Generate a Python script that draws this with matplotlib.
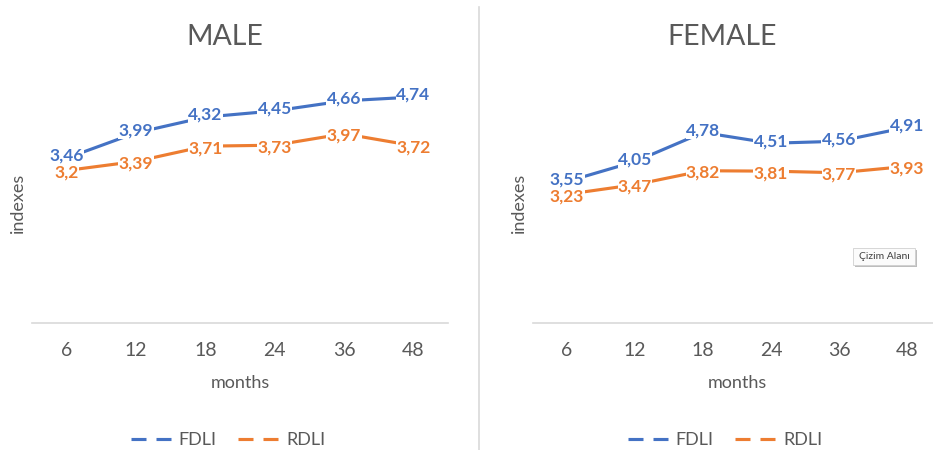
import matplotlib
matplotlib.use("Agg")
import matplotlib.pyplot as plt
from matplotlib.lines import Line2D
from matplotlib.patches import FancyBboxPatch
from matplotlib.transforms import offset_copy

plt.rcParams['font.family'] = ['Lato', 'DejaVu Sans']

months = ["6", "12", "18", "24", "36", "48"]
male_fdli = [3.46, 3.99, 4.32, 4.45, 4.66, 4.74]
male_rdli = [3.20, 3.39, 3.71, 3.73, 3.97, 3.72]
female_fdli = [3.55, 4.05, 4.78, 4.51, 4.56, 4.91]
female_rdli = [3.23, 3.47, 3.82, 3.81, 3.77, 3.93]

BLUE = "#4472C4"
ORANGE = "#ED7D31"
GREY = "#595959"
AXIS = "#D9D9D9"

W, H = 933, 450
fig = plt.figure(figsize=(W / 100, H / 100), dpi=100)


def fmt(v):
    s = f"{v:.2f}".rstrip("0").rstrip(".")
    return s.replace(".", ",")


def panel(rect, ymax, title, fdli, rdli, title_x, legend_x, ylabel_x):
    ax = fig.add_axes(rect)
    x = list(range(len(months)))
    # (values, colour, vertical nudge of the value labels in points, z-order)
    for vals, col, dy, z in ((fdli, BLUE, 1.5, 4), (rdli, ORANGE, -1.5, 3)):
        ax.plot(x, vals, color=col, lw=2.25, solid_capstyle='butt', zorder=2)
        tr = offset_copy(ax.transData, fig=fig, x=0, y=dy, units='points')
        for xi, v in zip(x, vals):
            ax.text(xi, v, fmt(v), ha='center', va='center', color=col,
                    fontsize=12.5, fontweight='bold', zorder=z, transform=tr,
                    bbox=dict(boxstyle='square,pad=0.02', fc='white', ec='none'))
    ax.set_xlim(-0.5, len(months) - 0.5)
    ax.set_ylim(0, ymax)
    ax.set_yticks([])
    ax.set_xticks(x)
    ax.set_xticklabels(months, fontsize=14, color=GREY)
    ax.tick_params(axis='x', length=0, pad=14)
    for s in ('top', 'right', 'left'):
        ax.spines[s].set_visible(False)
    ax.spines['bottom'].set_color(AXIS)
    ax.spines['bottom'].set_linewidth(1.2)
    ax.set_facecolor('none')

    fig.text(title_x / W, 1 - 37 / H, title, ha='center', va='center',
             fontsize=20.5, color=GREY)
    cx = (rect[0] + rect[2] / 2)
    fig.text(cx, 1 - 383 / H, "months", ha='center', va='center',
             fontsize=13, color=GREY)
    fig.text(ylabel_x / W, 1 - 203 / H, "indexes", ha='center', va='center',
             rotation=90, fontsize=13, color=GREY)

    handles = [Line2D([], [], color=BLUE, lw=2.25, dashes=(4.8, 3.2)),
               Line2D([], [], color=ORANGE, lw=2.25, dashes=(4.8, 3.2))]
    fig.legend(handles, ["FDLI", "RDLI"], loc='center',
               bbox_to_anchor=(legend_x / W, 1 - 440 / H), ncol=2,
               frameon=False, fontsize=13, labelcolor=GREY,
               handlelength=2.4, handletextpad=0.25, columnspacing=1.2)
    return ax


bottom = (H - 323) / H
panel([32 / W, bottom, 416 / W, 286 / H], 6, "MALE", male_fdli, male_rdli,
      225, 228, 18)
panel([533 / W, bottom, 408 / W, 279 / H], 7, "FEMALE", female_fdli, female_rdli,
      722, 725, 519)

# divider between the two charts
fig.add_artist(Line2D([479 / W, 479 / W], [0, 1 - 7 / H], color=AXIS, lw=1.2))

# plot-area tooltip
shadow = FancyBboxPatch((855 / W, 1 - 267 / H), 62 / W, 17 / H,
                        boxstyle='square,pad=0', fc='#BDBDBD', ec='none',
                        transform=fig.transFigure)
box = FancyBboxPatch((853 / W, 1 - 265 / H), 62 / W, 17 / H,
                     boxstyle='square,pad=0', fc='#FBFBFB', ec='#D0D0D0',
                     lw=0.6, transform=fig.transFigure)
fig.add_artist(shadow)
fig.add_artist(box)
fig.text(884 / W, 1 - 256.5 / H, "Çizim Alanı", ha='center', va='center',
         fontsize=7.5, color='#404040')

fig.savefig("out.png", dpi=100, facecolor='white')
